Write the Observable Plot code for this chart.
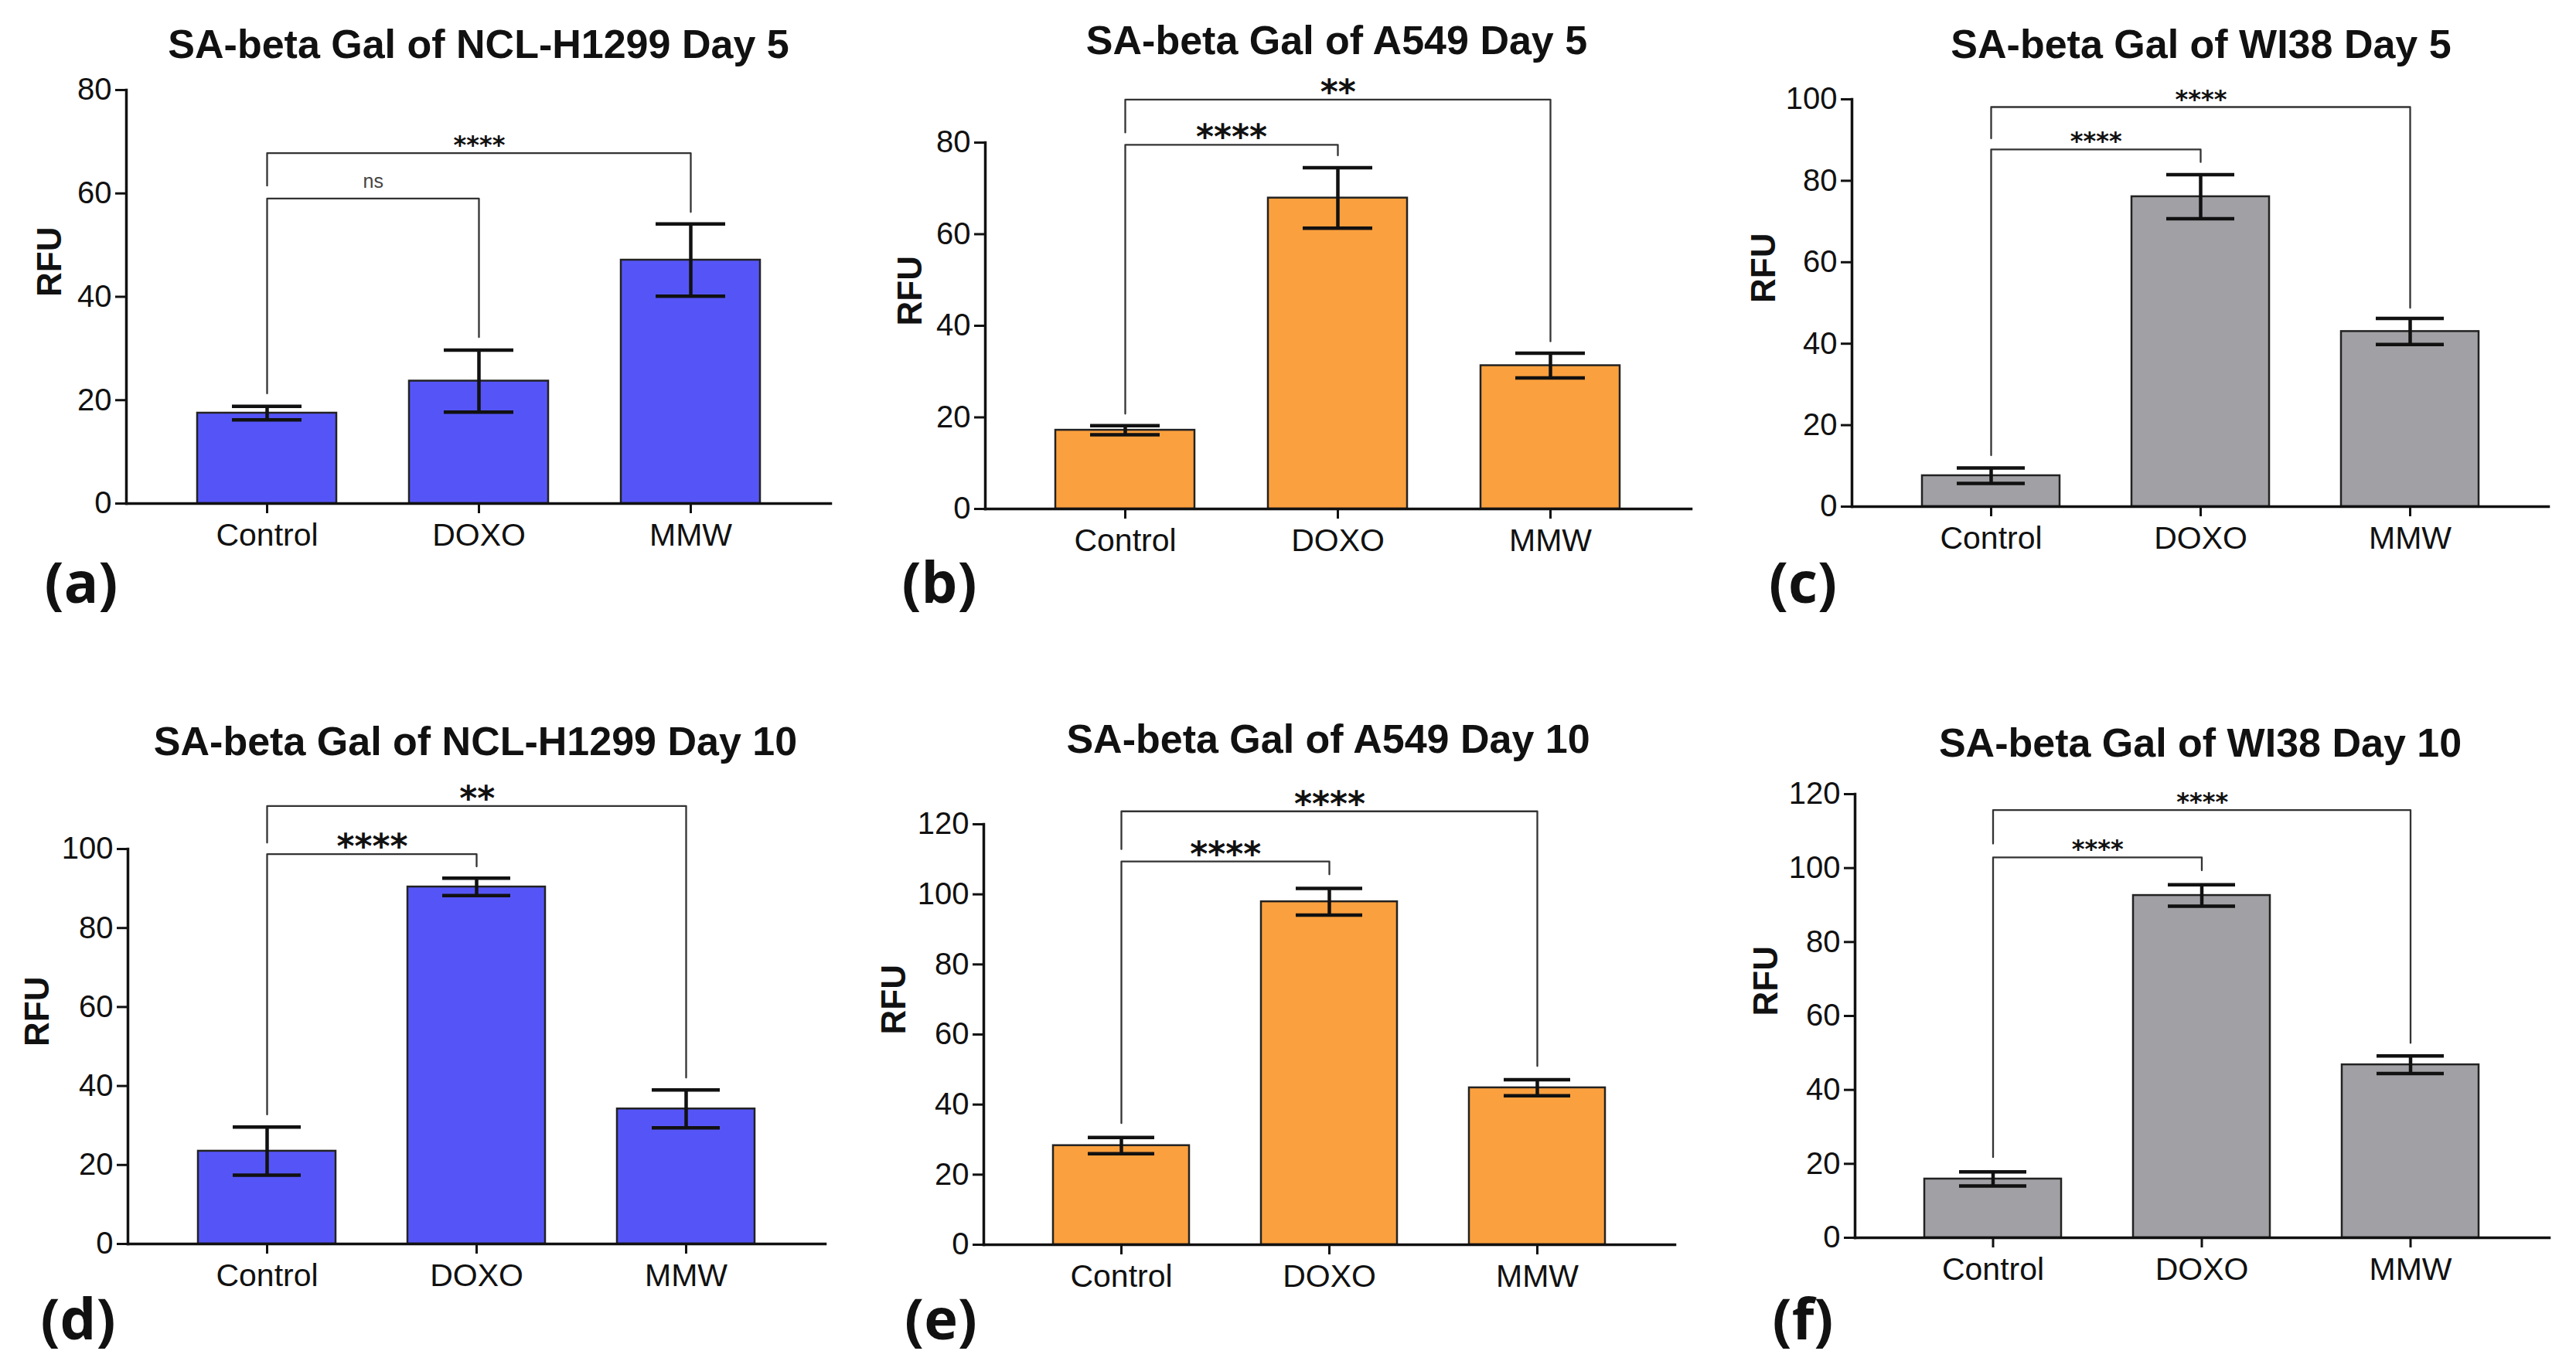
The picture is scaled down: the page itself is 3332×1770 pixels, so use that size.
<!DOCTYPE html>
<html><head><meta charset="utf-8">
<script src="https://cdn.jsdelivr.net/npm/d3@7"></script>
<script src="https://cdn.jsdelivr.net/npm/@observablehq/plot@0.6"></script>
<style>
body{margin:0;background:#fff;}
#root{position:relative;width:3332px;height:1770px;background:#fff;overflow:hidden;}
.panel{position:absolute;}
.title{position:absolute;transform:translate(-50%,-50%);font-family:'Liberation Sans',Arial,sans-serif;font-weight:bold;font-size:52px;line-height:1;white-space:nowrap;color:#111;}
.letter{position:absolute;transform:translate(-50%,-50%);font-family:'Open Sans',sans-serif;font-weight:bold;font-size:74px;line-height:1;color:#111;}
</style></head><body><div id="root"></div>
<script>
// ---- data ----
const categories = ["Control", "DOXO", "MMW"];
const titles = [
  "SA-beta Gal of NCL-H1299 Day 5", "SA-beta Gal of A549 Day 5", "SA-beta Gal of WI38 Day 5",
  "SA-beta Gal of NCL-H1299 Day 10", "SA-beta Gal of A549 Day 10", "SA-beta Gal of WI38 Day 10"
];
const letters = ["(a)", "(b)", "(c)", "(d)", "(e)", "(f)"];
const yLabel = "RFU";

const meansA = [17.5, 23.7, 47.1]; const semA = [1.3, 6.0, 7.0];
const meansB = [17.2, 67.9, 31.3]; const semB = [1.0, 6.6, 2.7];
const meansC = [7.6, 76.1, 43.0];  const semC = [1.9, 5.4, 3.2];
const meansD = [23.5, 90.4, 34.2]; const semD = [6.1, 2.2, 4.8];
const meansE = [28.3, 97.9, 44.8]; const semE = [2.3, 3.8, 2.3];
const meansF = [15.9, 92.6, 46.8]; const semF = [1.9, 2.9, 2.4];

const yTicksA = [0, 20, 40, 60, 80];
const yTicksB = [0, 20, 40, 60, 80];
const yTicksC = [0, 20, 40, 60, 80, 100];
const yTicksD = [0, 20, 40, 60, 80, 100];
const yTicksE = [0, 20, 40, 60, 80, 100, 120];
const yTicksF = [0, 20, 40, 60, 80, 100, 120];

// significance brackets: [to, level, leftEnd, rightEnd, label]
const bracketsA = [["DOXO", 59.0, 21.3, 32.2, "ns"], ["MMW", 67.8, 61.5, 56.4, "****"]];
const bracketsB = [["DOXO", 79.5, 20.8, 77.2, "****"], ["MMW", 89.4, 82.2, 36.6, "**"]];
const bracketsC = [["DOXO", 87.7, 12.6, 84.6, "****"], ["MMW", 98.1, 90.4, 48.8, "****"]];
const bracketsD = [["DOXO", 98.7, 32.8, 95.6, "****"], ["MMW", 110.9, 101.6, 42.1, "**"]];
const bracketsE = [["DOXO", 109.4, 34.7, 105.7, "****"], ["MMW", 123.7, 112.9, 51.0, "****"]];
const bracketsF = [["DOXO", 102.9, 21.8, 99.4, "****"], ["MMW", 115.7, 106.6, 52.7, "****"]];

const blue = "#5555F7", orange = "#FBA03E", gray = "#A1A1A5";

const panels = [
  {means: meansA, sem: semA, ticks: yTicksA, brackets: bracketsA, fill: blue},
  {means: meansB, sem: semB, ticks: yTicksB, brackets: bracketsB, fill: orange},
  {means: meansC, sem: semC, ticks: yTicksC, brackets: bracketsC, fill: gray},
  {means: meansD, sem: semD, ticks: yTicksD, brackets: bracketsD, fill: blue},
  {means: meansE, sem: semE, ticks: yTicksE, brackets: bracketsE, fill: orange},
  {means: meansF, sem: semF, ticks: yTicksF, brackets: bracketsF, fill: gray}
];

// ---- layout ----
const layout = [
  {left: 0,    top: 0,   width: 1110, mL: 163, mR: 36, mT: 116, mB: 229, rfuDx: -99,  ast: 32, tx: 619,  ty: 57,   lx: 105,  ly: 752},
  {left: 1110, top: 0,   width: 1110, mL: 164, mR: 33, mT: 184, mB: 222, rfuDx: -97,  ast: 44, tx: 1729, ty: 52,   lx: 1215, ly: 752},
  {left: 2220, top: 0,   width: 1112, mL: 175, mR: 36, mT: 128, mB: 225, rfuDx: -114, ast: 32, tx: 2847, ty: 57,   lx: 2332, ly: 752},
  {left: 0,    top: 890, width: 1110, mL: 165, mR: 43, mT: 208, mB: 161, rfuDx: -117, ast: 44, tx: 615,  ty: 959,  lx: 101,  ly: 1705},
  {left: 1110, top: 890, width: 1110, mL: 162, mR: 54, mT: 176, mB: 160, rfuDx: -116, ast: 44, tx: 1718, ty: 956,  lx: 1217, ly: 1705},
  {left: 2220, top: 890, width: 1112, mL: 179, mR: 35, mT: 137, mB: 169, rfuDx: -115, ast: 32, tx: 2846, ty: 961,  lx: 2332, ly: 1705}
];
const H = 880;
const padIn = 0.344, padOut = 0.331;
const font = "'Liberation Sans', Arial, sans-serif";

const root = document.getElementById("root");

panels.forEach((p, i) => {
  const L = layout[i];
  const rows = categories.map((c, k) => ({cat: c, mean: p.means[k], lo: p.means[k] - p.sem[k], hi: p.means[k] + p.sem[k]}));
  const pts = [];
  const labels = [];
  const step = (L.width - L.mL - L.mR) / (categories.length - padIn + 2 * padOut);
  p.brackets.forEach(([to, level, leftEnd, rightEnd, label], j) => {
    pts.push({id: j, x: "Control", y: leftEnd}, {id: j, x: "Control", y: level}, {id: j, x: to, y: level}, {id: j, x: to, y: rightEnd});
    const span = categories.indexOf(to) - categories.indexOf("Control");
    labels.push({x: "Control", y: level, label, off: step * span / 2});
  });
  const starLabels = labels.filter(d => d.label !== "ns");
  const nsLabels = labels.filter(d => d.label === "ns");
  const yMax = p.ticks[p.ticks.length - 1];

  const svg = Plot.plot({
    width: L.width,
    height: H,
    marginLeft: L.mL, marginRight: L.mR, marginTop: L.mT, marginBottom: L.mB,
    style: {fontFamily: font, fontSize: "40px", color: "#111", background: "transparent", overflow: "visible"},
    x: {domain: categories, type: "band", paddingInner: padIn, paddingOuter: padOut, align: 0.5},
    y: {domain: [0, yMax]},
    marks: [
      Plot.barY(rows, {x: "cat", y: "mean", fill: p.fill, stroke: "#222", strokeWidth: 2.5}),
      Plot.ruleX(rows, {x: "cat", y1: "lo", y2: "hi", stroke: "#111", strokeWidth: 4.5}),
      Plot.tickY(rows, {x: "cat", y: "lo", stroke: "#111", strokeWidth: 4.5, insetLeft: 45, insetRight: 45}),
      Plot.tickY(rows, {x: "cat", y: "hi", stroke: "#111", strokeWidth: 4.5, insetLeft: 45, insetRight: 45}),
      Plot.line(pts, {x: "x", y: "y", z: "id", stroke: "#333", strokeWidth: 2.3, curve: "linear"}),
      ...starLabels.map(d => Plot.text([d], {x: "x", y: "y", text: "label", dx: d.off, dy: L.ast > 40 ? 5 : 0, lineAnchor: "bottom", fontFamily: "'DejaVu Sans', sans-serif", fontWeight: "bold", fontSize: L.ast, fill: "#111"})),
      ...nsLabels.map(d => Plot.text([d], {x: "x", y: "y", text: "label", dx: d.off, dy: -14, lineAnchor: "bottom", fontFamily: font, fontSize: 25, fill: "#444"})),
      Plot.frame({anchor: "left", stroke: "#111", strokeWidth: 3.5}),
      Plot.frame({anchor: "bottom", stroke: "#111", strokeWidth: 3.5}),
      Plot.axisY({ticks: p.ticks, tickSize: 14, tickPadding: 5, strokeWidth: 3, fontSize: 40, label: null, tickFormat: d => String(d)}),
      Plot.axisX({tickSize: 13, tickPadding: 12, strokeWidth: 3, fontSize: 41, label: null}),
      Plot.text([yLabel], {frameAnchor: "left", text: d => d, rotate: -90, dx: L.rfuDx, fontSize: 44, fontWeight: "bold", fill: "#111"})
    ]
  });
  const wrap = document.createElement("div");
  wrap.className = "panel";
  wrap.style.left = L.left + "px";
  wrap.style.top = L.top + "px";
  wrap.appendChild(svg);
  root.appendChild(wrap);

  const t = document.createElement("div");
  t.className = "title";
  t.textContent = titles[i];
  t.style.left = L.tx + "px";
  t.style.top = L.ty + "px";
  root.appendChild(t);

  const l = document.createElement("div");
  l.className = "letter";
  l.textContent = letters[i];
  l.style.left = L.lx + "px";
  l.style.top = L.ly + "px";
  root.appendChild(l);
});
</script>
</body></html>
